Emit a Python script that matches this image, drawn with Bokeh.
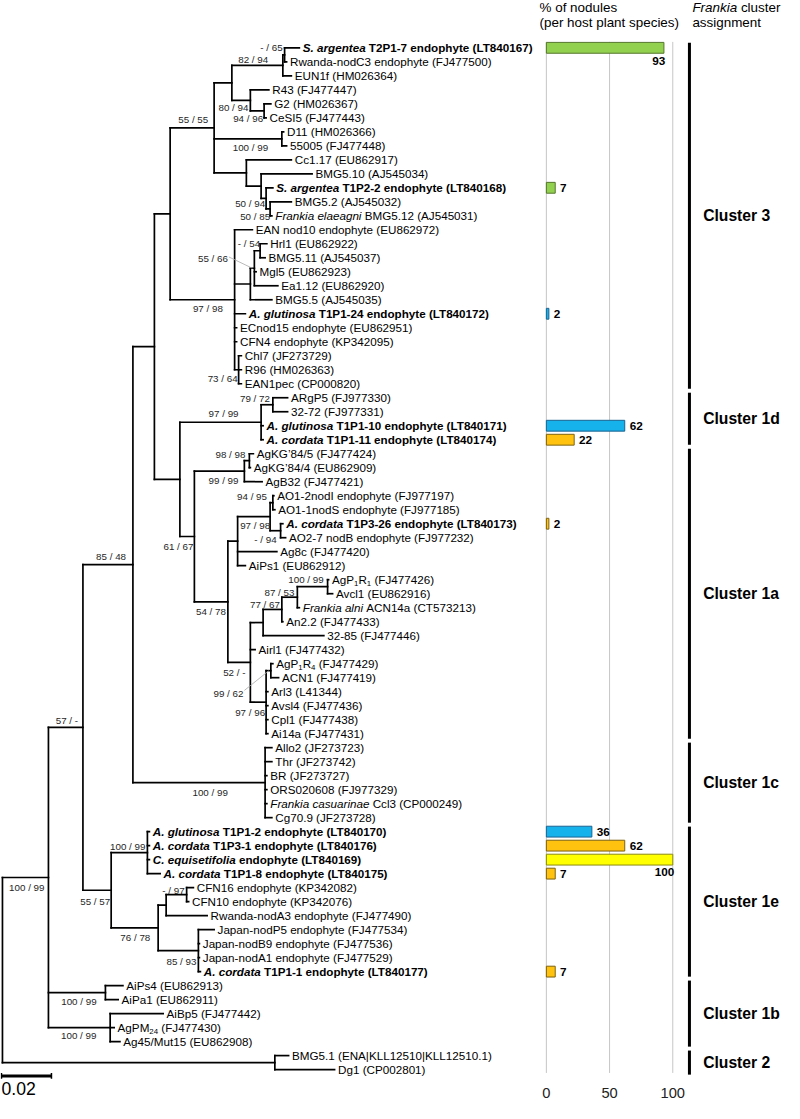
from bokeh.plotting import figure
from bokeh.models import Range1d, ColumnDataSource
from bokeh.embed import file_html
from bokeh.resources import INLINE
from bokeh.core.properties import value

# ---------------- DATA ----------------
leaf_labels = [
    "*S. argentea* T2P1-7 endophyte (LT840167)",
    "Rwanda-nodC3 endophyte (FJ477500)",
    "EUN1f (HM026364)",
    "R43 (FJ477447)",
    "G2 (HM026367)",
    "CeSI5 (FJ477443)",
    "D11 (HM026366)",
    "55005 (FJ477448)",
    "Cc1.17 (EU862917)",
    "BMG5.10 (AJ545034)",
    "*S. argentea* T1P2-2 endophyte (LT840168)",
    "BMG5.2 (AJ545032)",
    "*Frankia elaeagni* BMG5.12 (AJ545031)",
    "EAN nod10 endophyte (EU862972)",
    "Hrl1 (EU862922)",
    "BMG5.11 (AJ545037)",
    "Mgl5 (EU862923)",
    "Ea1.12 (EU862920)",
    "BMG5.5 (AJ545035)",
    "*A. glutinosa* T1P1-24 endophyte (LT840172)",
    "ECnod15 endophyte (EU862951)",
    "CFN4 endophyte (KP342095)",
    "Chl7 (JF273729)",
    "R96 (HM026363)",
    "EAN1pec (CP000820)",
    "ARgP5 (FJ977330)",
    "32-72 (FJ977331)",
    "*A. glutinosa* T1P1-10 endophyte (LT840171)",
    "*A. cordata* T1P1-11 endophyte (LT840174)",
    "AgKG\u201984/5 (FJ477424)",
    "AgKG\u201984/4 (EU862909)",
    "AgB32 (FJ477421)",
    "AO1-2nodI endophyte (FJ977197)",
    "AO1-1nodS endophyte (FJ977185)",
    "*A. cordata* T1P3-26 endophyte (LT840173)",
    "AO2-7 nodB endophyte (FJ977232)",
    "Ag8c (FJ477420)",
    "AiPs1 (EU862912)",
    "AgP_{1}R_{1} (FJ477426)",
    "Avcl1 (EU862916)",
    "*Frankia alni* ACN14a (CT573213)",
    "An2.2 (FJ477433)",
    "32-85 (FJ477446)",
    "Airl1 (FJ477432)",
    "AgP_{1}R_{4} (FJ477429)",
    "ACN1 (FJ477419)",
    "Arl3 (L41344)",
    "Avsl4 (FJ477436)",
    "Cpl1 (FJ477438)",
    "Ai14a (FJ477431)",
    "Allo2 (JF273723)",
    "Thr (JF273742)",
    "BR (JF273727)",
    "ORS020608 (FJ977329)",
    "*Frankia casuarinae* Ccl3 (CP000249)",
    "Cg70.9 (JF273728)",
    "*A. glutinosa* T1P1-2 endophyte (LT840170)",
    "*A. cordata* T1P3-1 endophyte (LT840176)",
    "*C. equisetifolia* endophyte (LT840169)",
    "*A. cordata* T1P1-8 endophyte (LT840175)",
    "CFN16 endophyte (KP342082)",
    "CFN10 endophyte (KP342076)",
    "Rwanda-nodA3 endophyte (FJ477490)",
    "Japan-nodP5 endophyte (FJ477534)",
    "Japan-nodB9 endophyte (FJ477536)",
    "Japan-nodA1 endophyte (FJ477529)",
    "*A. cordata* T1P1-1 endophyte (LT840177)",
    "AiPs4 (EU862913)",
    "AiPa1 (EU862911)",
    "AiBp5 (FJ477442)",
    "AgPM_{24} (FJ477430)",
    "Ag45/Mut15 (EU862908)",
    "BMG5.1 (ENA|KLL12510|KLL12510.1)",
    "Dg1 (CP002801)",
]

leaf_parent = [
    "A", "A", "B", "C", "D", "D", "DD", "DD", "G", "H",
    "K", "L", "L", "J", "Q", "Q", "P", "P", "N", "J",
    "J", "J", "O", "O", "O", "AY", "AY", "U", "U", "AJ",
    "AJ", "AK", "AR", "AR", "AQ", "AQ", "AN", "AN", "AW", "AW",
    "AV", "AU", "AT", "AO", "AX", "AX", "AS", "AS", "AS", "AS",
    "Z", "Z", "Z", "Z", "Z", "Z", "AE", "AE", "AE", "AE",
    "AI", "AI", "AG", "AH", "AH", "AH", "AH", "AB", "AB", "AC",
    "AC", "AC", "AD", "AD",
]

# divergence (substitutions/site) from the root to each tip
leaf_depth = [
    0.1188, 0.1137, 0.1156, 0.1066, 0.1074, 0.1055, 0.1125, 0.1137, 0.1156, 0.1239,
    0.1082, 0.1156, 0.1078, 0.1000, 0.1058, 0.1051, 0.1015, 0.1102, 0.1078, 0.0972,
    0.0937, 0.0937, 0.0956, 0.0956, 0.0956, 0.1141, 0.1141, 0.1043, 0.1043, 0.1004,
    0.0992, 0.1039, 0.1086, 0.1090, 0.1122, 0.1133, 0.1098, 0.0972, 0.1305, 0.1321,
    0.1188, 0.1122, 0.1286, 0.1011, 0.1082, 0.1105, 0.1062, 0.1062, 0.1062, 0.1062,
    0.1078, 0.1078, 0.1058, 0.1058, 0.1058, 0.1078, 0.0588, 0.0588, 0.0588, 0.0631,
    0.0764, 0.0745, 0.0819, 0.0847, 0.0788, 0.0788, 0.0792, 0.0482, 0.0463, 0.0643,
    0.0447, 0.0470, 0.1145, 0.1329,
]

node_names = ["root", "AA", "AD", "X", "AB", "AC", "W", "Y", "R", "Z",
              "I", "T", "F", "J", "E", "DD", "G", "B", "A", "C",
              "D", "H", "K", "L", "N", "P", "Q", "O", "U", "AY",
              "AL", "AK", "AJ", "AM", "AN", "AP", "AR", "AQ", "AO", "AT",
              "AU", "AV", "AW", "AS", "AX", "AE", "AF", "AG", "AI", "AH"]
node_parent = [None, "root", "root", "AA", "AA", "AA", "X", "X", "W", "W",
               "R", "R", "I", "I", "F", "F", "F", "E", "B", "E",
               "C", "G", "H", "K", "J", "N", "P", "J", "T", "U",
               "T", "AL", "AK", "AL", "AM", "AN", "AP", "AP", "AM", "AO",
               "AT", "AU", "AV", "AO", "AS", "Y", "Y", "AF", "AG", "AF"]
node_depth = [0.0, 0.0184, 0.1090, 0.0322, 0.0412, 0.0431, 0.0522, 0.0435, 0.0608, 0.1051,
              0.0671, 0.0710, 0.0847, 0.0929, 0.0918, 0.1118, 0.0976, 0.1122, 0.1129, 0.0992,
              0.1047, 0.1035, 0.1055, 0.1071, 0.0992, 0.1008, 0.1031, 0.0945, 0.1035, 0.1082,
              0.0768, 0.0968, 0.0988, 0.0902, 0.0941, 0.1071, 0.1082, 0.1113, 0.0992, 0.1043,
              0.1118, 0.1180, 0.1301, 0.1055, 0.1074, 0.0580, 0.0623, 0.0655, 0.0737, 0.0784]

support_node = ["A", "B", "C", "D", "F", "DD", "K", "L", "Q", "P",
                "J", "O", "AY", "U", "AJ", "AK", "AR", "AP", "AQ", "AL",
                "AM", "AW", "AV", "AU", "AO", "AX", "AS", "Z", "W", "X",
                "AE", "Y", "AF", "AI", "AH", "AB", "AC", "AA"]
support_text = ["- / 65", "82 / 94", "80 / 94", "94 / 96", "55 / 55", "100 / 99", "50 / 94", "50 / 85", "- / 54", "55 / 66",
                "97 / 98", "73 / 64", "79 / 72", "97 / 99", "98 / 98", "99 / 99", "94 / 95", "97 / 98", "- / 94", "61 / 67",
                "54 / 78", "100 / 99", "87 / 53", "77 / 67", "52 / -", "99 / 62", "97 / 96", "100 / 99", "85 / 48", "57 / -",
                "100 / 99", "55 / 57", "76 / 78", "- / 97", "85 / 93", "100 / 99", "100 / 99", "100 / 99"]

bar_leaf = [0, 10, 19, 27, 28, 34, 56, 57, 58, 59, 66]
bar_pct = [93, 7, 2, 62, 22, 2, 36, 62, 100, 7, 7]
bar_host = ["S. argentea", "S. argentea", "A. glutinosa", "A. glutinosa", "A. cordata", "A. cordata",
            "A. glutinosa", "A. cordata", "C. equisetifolia", "A. cordata", "A. cordata"]

pct_ticks = [0, 50, 100]

cluster_names = ["Cluster 3", "Cluster 1d", "Cluster 1a", "Cluster 1c", "Cluster 1e", "Cluster 1b", "Cluster 2"]
cluster_first = [0, 25, 29, 50, 56, 67, 72]
cluster_last = [24, 28, 49, 55, 66, 71, 73]

scale_bar_length = 0.02

# ---------------- LAYOUT / STYLE ----------------
W_PX, H_PX = 784, 1103
REF_W, REF_H = 800.0, 1119.0
KX = W_PX / REF_W
REF_PER_UNIT = 51.0 / 0.02          # reference px per substitution unit
X0, X1 = -2.0 / REF_PER_UNIT, (REF_W - 2.0) / REF_PER_UNIT
LEAF_TOP, LEAF_STEP = 48.0, 14.2
Y_TOP, Y_BOT = -LEAF_TOP / LEAF_STEP, (REF_H - LEAF_TOP) / LEAF_STEP
PCT0, PCT_STEP = 557.0, 1.29
FONT = value("Liberation Sans")

host_fill = {"S. argentea": "#92D050", "A. glutinosa": "#16B2EC", "A. cordata": "#FFC20E", "C. equisetifolia": "#FFFF00"}
host_line = {"S. argentea": "#55762C", "A. glutinosa": "#1B6390", "A. cordata": "#7D6210", "C. equisetifolia": "#8A8A10"}

support_offset = {
    "A": (-2, -7.5), "B": (-15, -6), "C": (-2, 7.5), "D": (-1, 8), "F": (-6, -8), "DD": (-14, 9),
    "K": (-1, 5.5), "L": (0, 8), "Q": (0, -7), "P": (-27, -9.5), "J": (-12, 9), "O": (-1, 9),
    "AY": (-3, -6.5), "U": (-23, -9), "AJ": (-4, -6), "AK": (-6, 9.5), "AR": (-6, -6), "AP": (0, 9),
    "AQ": (-4, 9), "AL": (-1, 10), "AM": (-2, 9.5), "AW": (-4, -7), "AV": (-3, -4.5), "AU": (-2, -5),
    "AO": (-5, 10.5), "AX": (-28, 23), "AS": (-1, 10), "Z": (-38, 9.5), "W": (-7, -8.5), "X": (-5, -7),
    "AE": (-2, -6), "Y": (-1, 11), "AF": (-8, 10), "AI": (-2, -4), "AH": (-2, 11.5), "AB": (-9, 9),
    "AC": (-14, 8.5), "AA": (-4, 10),
}
leader_nodes = {"P", "AX"}


def rx(d):
    return d / REF_PER_UNIT


def ry(d):
    return d / LEAF_STEP


def fs(ref_px):
    return round(ref_px * KX, 2)


REG = {}
BOLD = {}
for c in "0123456789":
    REG[c] = 556
    BOLD[c] = 556
for c, w in zip("abcdefghijklmnopqrstuvwxyz",
                [556, 556, 500, 556, 556, 278, 556, 556, 222, 222, 500, 222, 833, 556, 556, 556, 556, 333, 500, 278, 556, 500, 722, 500, 500, 500]):
    REG[c] = w
for c, w in zip("abcdefghijklmnopqrstuvwxyz",
                [556, 611, 556, 611, 556, 333, 611, 611, 278, 278, 556, 278, 889, 611, 611, 611, 611, 389, 556, 333, 611, 556, 778, 556, 556, 500]):
    BOLD[c] = w
for c, w in zip("ABCDEFGHIJKLMNOPQRSTUVWXYZ",
                [667, 667, 722, 722, 667, 611, 778, 722, 278, 500, 667, 556, 833, 722, 778, 667, 778, 722, 667, 611, 722, 667, 944, 667, 667, 611]):
    REG[c] = w
for c, w in zip("ABCDEFGHIJKLMNOPQRSTUVWXYZ",
                [722, 722, 722, 722, 667, 611, 778, 722, 278, 556, 722, 611, 833, 722, 778, 667, 778, 722, 667, 611, 722, 667, 944, 667, 667, 611]):
    BOLD[c] = w
REG.update({" ": 278, "(": 333, ")": 333, "-": 333, ".": 278, "/": 278, "|": 260, "\u2019": 222, "%": 889})
BOLD.update({" ": 278, "(": 333, ")": 333, "-": 333, ".": 278, "/": 278, "|": 280, "\u2019": 278, "%": 889})


def text_px(t, bold, size):
    tab = BOLD if bold else REG
    return sum(tab.get(c, 556) for c in t) / 1000.0 * size


def parse(label):
    segs, buf, ital, i = [], "", False, 0
    while i < len(label):
        if label[i] == "*":
            if buf:
                segs.append((buf, ital, False))
                buf = ""
            ital = not ital
            i += 1
        elif label.startswith("_{", i):
            if buf:
                segs.append((buf, ital, False))
                buf = ""
            j = label.index("}", i)
            segs.append((label[i + 2:j], ital, True))
            i = j + 1
        else:
            buf += label[i]
            i += 1
    if buf:
        segs.append((buf, ital, False))
    return segs


# ---------------- TREE GEOMETRY ----------------
depth = dict(zip(node_names, node_depth))
parent = dict(zip(node_names, node_parent))
children = {n: [] for n in node_names}
for i, par in enumerate(leaf_parent):
    children[par].append(("leaf", i))
for n, par in zip(node_names, node_parent):
    if par is not None:
        children[par].append(("node", n))

node_y = {}


def get_y(kind, key):
    if kind == "leaf":
        return float(key)
    if key not in node_y:
        ys = [get_y(*c) for c in children[key]]
        node_y[key] = (min(ys) + max(ys)) / 2.0
    return node_y[key]


for n in node_names:
    get_y("node", n)

hx0, hx1, hy = [], [], []
for i, par in enumerate(leaf_parent):
    hx0.append(depth[par]); hx1.append(leaf_depth[i]); hy.append(float(i))
for n in node_names:
    if parent[n] is not None:
        hx0.append(depth[parent[n]]); hx1.append(depth[n]); hy.append(node_y[n])
vx, vy0, vy1 = [], [], []
for n in node_names:
    ys = [get_y(*c) for c in children[n]]
    vx.append(depth[n]); vy0.append(min(ys)); vy1.append(max(ys))

# ---------------- FIGURE ----------------
p = figure(width=W_PX, height=H_PX, x_range=Range1d(X0, X1), y_range=Range1d(Y_BOT, Y_TOP),
           output_backend="svg", toolbar_location=None, min_border=0,
           x_axis_location=None, y_axis_location=None, outline_line_color=None,
           background_fill_color="white", border_fill_color="white")
p.xgrid.grid_line_color = None
p.ygrid.grid_line_color = None
p.extra_x_ranges = {"pct": Range1d(-PCT0 / PCT_STEP, (REF_W - PCT0) / PCT_STEP), "px": Range1d(0, REF_W)}
p.extra_y_ranges = {"py": Range1d(REF_H, 0)}

# grid of % axis
p.segment(x0=pct_ticks, x1=pct_ticks, y0=[ry(42 - LEAF_TOP)] * 3, y1=[ry(1088 - LEAF_TOP)] * 3,
          x_range_name="pct", line_color="#c6c6c6", line_width=1)

# tree
p.segment(x0=hx0, x1=hx1, y0=hy, y1=hy, line_color="black", line_width=1.7, line_cap="square")
p.segment(x0=vx, x1=vx, y0=vy0, y1=vy1, line_color="black", line_width=1.7, line_cap="square")

# text collection
groups = {}


def add_text(x, y, t, style, size, xr="default", yr="default", color="black", align="left", baseline="middle"):
    key = (style, size, xr, yr, color, align, baseline)
    g = groups.setdefault(key, {"x": [], "y": [], "t": []})
    g["x"].append(x); g["y"].append(y); g["t"].append(t)


LEAF_FS = fs(11.9)
SUB_FS = fs(8.0)
for i, lab in enumerate(leaf_labels):
    bold = "(LT84" in lab
    x = leaf_depth[i] + rx(3.5)
    for t, ital, sub in parse(lab):
        size = SUB_FS if sub else LEAF_FS
        style = (("bold " if bold else "") + ("italic" if ital else "")).strip() or "normal"
        lead = len(t) - len(t.lstrip(" "))
        x += rx(text_px(" " * lead, bold, size) / KX)
        t2 = t.lstrip(" ")
        add_text(x, i + (ry(3.5) if sub else 0.0), t2, style, size)
        x += rx(text_px(t2, bold, size) / KX)

# support values
SUP_FS = fs(10.0)
lx0, lx1, ly0, ly1 = [], [], [], []
for n, t in zip(support_node, support_text):
    dx, dy = support_offset[n]
    sx = depth[n] + rx(dx)
    sy = node_y[n] + ry(dy)
    add_text(sx, sy, t, "normal", SUP_FS, color="#262626", align="right")
    if n in leader_nodes:
        lx0.append(sx + rx(1)); ly0.append(sy + ry(-2 if dy < 0 else -3))
        lx1.append(depth[n] - rx(2)); ly1.append(node_y[n])
p.segment(x0=lx0, x1=lx1, y0=ly0, y1=ly1, line_color="#a8a8a8", line_width=0.8)

# bars
src = ColumnDataSource(dict(y=[float(b) for b in bar_leaf], right=bar_pct,
                            fill=[host_fill[h] for h in bar_host], line=[host_line[h] for h in bar_host]))
p.hbar(y="y", left=0, right="right", height=ry(11), source=src, x_range_name="pct",
       fill_color="fill", line_color="line", line_width=1)
BAR_FS = fs(12.0)
for b, v in zip(bar_leaf, bar_pct):
    if v >= 90:
        add_text(v + 1.5 / PCT_STEP, b + ry(13), str(v), "bold", BAR_FS, xr="pct", align="right")
    else:
        add_text(v + 5 / PCT_STEP, b, str(v), "bold", BAR_FS, xr="pct")

# % axis tick labels
for t in pct_ticks:
    add_text(t, 1108, str(t), "normal", fs(15), xr="pct", yr="py", color="#222222", align="center")

# headers
HDR_FS = fs(13.7)
add_text(550, 7, "% of nodules", "normal", HDR_FS, xr="px", yr="py")
add_text(550, 22, "(per host plant species)", "normal", HDR_FS, xr="px", yr="py")
add_text(706, 7, "Frankia", "italic", HDR_FS, xr="px", yr="py")
add_text(706 + text_px("Frankia ", False, HDR_FS) / KX, 7, "cluster", "normal", HDR_FS, xr="px", yr="py")
add_text(706, 22, "assignment", "normal", HDR_FS, xr="px", yr="py")

# cluster bars and names
cb_y0 = [f - 0.36 for f in cluster_first]
cb_y1 = [l + 0.36 for l in cluster_last]
p.segment(x0=[703] * len(cluster_names), x1=[703] * len(cluster_names), y0=cb_y0, y1=cb_y1,
          x_range_name="px", line_color="black", line_width=3)
for name, f, l in zip(cluster_names, cluster_first, cluster_last):
    add_text(717, (f + l) / 2.0, name, "bold", fs(16.0), xr="px")

# scale bar
sb_x0 = rx(-1)
p.segment(x0=[sb_x0], x1=[sb_x0 + scale_bar_length], y0=[1091], y1=[1091], y_range_name="py",
          line_color="black", line_width=3)
p.segment(x0=[sb_x0, sb_x0 + scale_bar_length], x1=[sb_x0, sb_x0 + scale_bar_length], y0=[1088, 1088], y1=[1094, 1094],
          y_range_name="py", line_color="black", line_width=1.5)
add_text(1, 1104, "%.2f" % scale_bar_length, "normal", fs(18), xr="px", yr="py")

for (style, size, xr, yr, color, align, baseline), g in groups.items():
    p.text(x="x", y="y", text="t", source=ColumnDataSource(g), x_range_name=xr, y_range_name=yr,
           text_font=FONT, text_font_size="%spx" % size, text_font_style=style, text_color=color,
           text_align=align, text_baseline=baseline)

open("out.html", "w").write(file_html(p, INLINE))
